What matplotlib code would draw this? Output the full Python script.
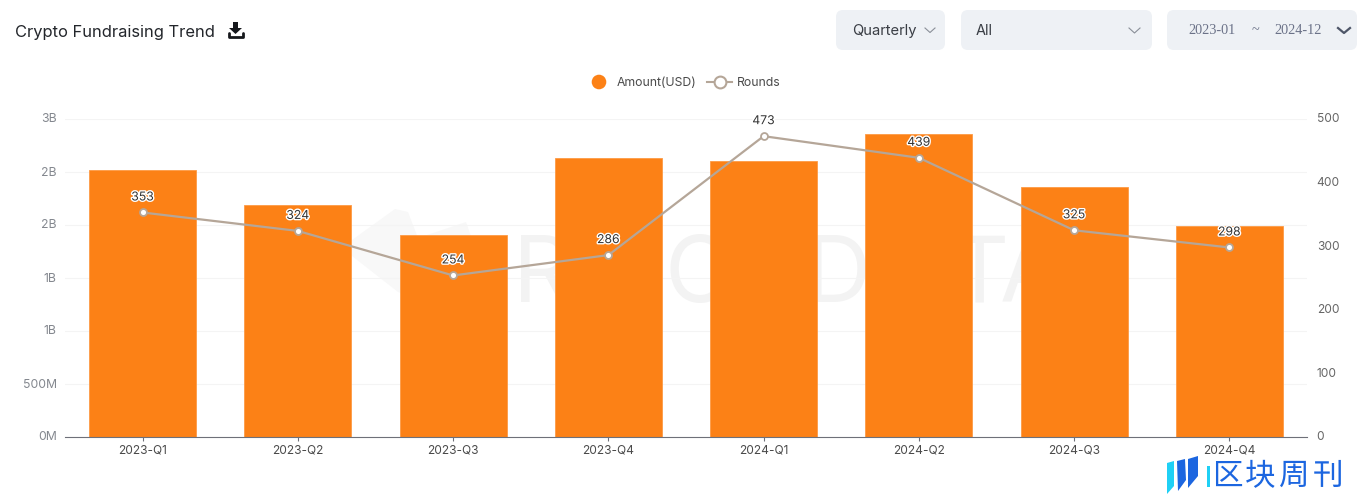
import matplotlib
matplotlib.use('Agg')
import matplotlib.pyplot as plt
import matplotlib.patheffects as pe
from matplotlib.patches import FancyBboxPatch, Polygon, Circle
from matplotlib.transforms import ScaledTranslation
import numpy as np

plt.rcParams['font.family'] = ['Inter', 'DejaVu Sans']

quarters = ['2023-Q1', '2023-Q2', '2023-Q3', '2023-Q4', '2024-Q1', '2024-Q2', '2024-Q3', '2024-Q4']
amount = [2.52e9, 2.19e9, 1.905e9, 2.635e9, 2.60e9, 2.855e9, 2.36e9, 1.99e9]
rounds = [353, 324, 254, 286, 473, 439, 325, 298]
left_ticks = [0, 0.5e9, 1e9, 1.5e9, 2e9, 2.5e9, 3e9]
left_labels = ['0M', '500M', '1B', '1B', '2B', '2B', '3B']
right_ticks = [0, 100, 200, 300, 400, 500]

orange = '#fc8116'
line_col = '#b5a698'
blue = '#1c66e0'
W, H = 1371, 495

fig = plt.figure(figsize=(W / 100, H / 100), dpi=100, facecolor='white')

# background layer in pixel coords, for the watermark
bg = fig.add_axes([0, 0, 1, 1], zorder=0)
bg.set_xlim(0, W)
bg.set_ylim(H, 0)
bg.axis('off')
bg.add_patch(Polygon([(352, 240), (395, 209), (408, 212), (418, 238), (466, 222), (480, 262),
                      (420, 300), (398, 292), (352, 256)],
                     facecolor='#f8f8f8', edgecolor='none'))
wm_x = [513, 592, 665, 745, 805, 880, 950, 1000]
for ch, cx in zip('ROOTDATA', wm_x):
    bg.text(cx, 302, ch, fontsize=66, color='#f3f3f3', ha='left', va='baseline', family='Inter')

ax = fig.add_axes([65 / W, (H - 437) / H, (1307 - 65) / W, (437 - 119) / H], zorder=1)
ax.patch.set_alpha(0)
x = np.arange(len(quarters))
ax.bar(x, amount, width=107 / 155.25, color=orange, edgecolor='#fd9a45', linewidth=0.6, zorder=3)
ax.set_xlim(-0.5, 7.5)
ax.set_ylim(0, 3e9)
ax.set_xticks(x)
ax.set_xticklabels(quarters, fontsize=8.6, color='#4a4a4a')
ax.set_yticks(left_ticks)
ax.set_yticklabels(left_labels, fontsize=8.8, color='#84888f')
ax.tick_params(axis='x', length=3, width=0.8, color='#6e7079', pad=2.5)
ax.tick_params(axis='y', length=0, pad=6)
ax.grid(axis='y', color='#f4f4f4', linewidth=0.8)
ax.set_axisbelow(True)
for s in ['top', 'left', 'right']:
    ax.spines[s].set_visible(False)
ax.spines['bottom'].set_color('#6e7079')
ax.spines['bottom'].set_linewidth(0.8)
ax.spines['bottom'].set_zorder(5)

ax2 = ax.twinx()
ax2.plot(x, rounds, color=line_col, linewidth=1.6, marker='o', markersize=5,
         markerfacecolor='white', markeredgecolor=line_col, markeredgewidth=1.3, zorder=4)
ax2.set_ylim(0, 500)
ax2.set_yticks(right_ticks)
ax2.tick_params(axis='y', length=0, pad=7, labelsize=8.6, labelcolor='#666666')
for s in ['top', 'left', 'right', 'bottom']:
    ax2.spines[s].set_visible(False)
for xi, r in zip(x, rounds):
    ax2.annotate(str(r), (xi, r), xytext=(0, 6.5), textcoords='offset points', ha='center', va='bottom',
                 fontsize=8.8, color='#333333',
                 path_effects=[pe.withStroke(linewidth=2, foreground='white')])

# nudge y labels up a pixel
up = ScaledTranslation(0, 1 / 100, fig.dpi_scale_trans)
for lab in ax.get_yticklabels() + ax2.get_yticklabels():
    lab.set_transform(lab.get_transform() + up)

# page chrome on top, pixel coords
ui = fig.add_axes([0, 0, 1, 1], zorder=2)
ui.set_xlim(0, W)
ui.set_ylim(H, 0)
ui.axis('off')
ui.patch.set_alpha(0)

ui.text(15, 32, 'Crypto Fundraising Trend', fontsize=11.9, color='#23262b', va='center')
# download icon
ui.add_patch(Polygon([(233, 22), (238, 22), (238, 28), (242, 28), (235.5, 34), (229, 28), (233, 28)],
                     facecolor='#16181c', edgecolor='none'))
ui.plot([228.5, 228.5, 243, 243], [33, 36.5, 36.5, 33], color='#16181c', linewidth=2, solid_capstyle='round')

for bx, bw in [(836, 109), (961, 191), (1167, 190)]:
    ui.add_patch(FancyBboxPatch((bx, 10), bw, 40, boxstyle='round,pad=0,rounding_size=7',
                                facecolor='#eef1f5', edgecolor='none'))

ui.text(852, 31, 'Quarterly', fontsize=10.6, color='#3a3e45', va='center')
ui.text(976, 31, 'All', fontsize=10.4, color='#3a3e45', va='center')
ui.text(1188, 30, '2023-01', fontsize=10.3, color='#6b7288', va='center', family='Liberation Serif')
ui.text(1255, 31, '~', fontsize=10.3, color='#6b7288', va='center', ha='center', family='Liberation Serif')
ui.text(1274, 30, '2024-12', fontsize=10.3, color='#6b7288', va='center', family='Liberation Serif')
ui.plot([925, 930, 935], [28, 32.5, 28], color='#8a8f98', linewidth=0.8)
ui.plot([1129, 1134.5, 1140], [28, 33, 28], color='#8a8f98', linewidth=0.8)
ui.plot([1338, 1344, 1350], [28, 33, 28], color='#4e5668', linewidth=1.6)

# legend
ui.add_patch(Circle((599, 82), 7.3, facecolor=orange, edgecolor='none'))
ui.text(617, 82.5, 'Amount(USD)', fontsize=8.8, color='#4a4a4a', va='center')
ui.plot([707, 732], [81.5, 81.5], color=line_col, linewidth=1.5)
ui.plot([720], [81.5], marker='o', markersize=8.5, markerfacecolor='white', markeredgecolor=line_col,
        markeredgewidth=1.5)
ui.text(737, 82.5, 'Rounds', fontsize=8.8, color='#4a4a4a', va='center')

# publisher mark bottom right
ui.add_patch(Polygon([(1167, 463), (1174, 461), (1174, 486), (1167, 494)], facecolor='#1fd0f5', edgecolor='none'))
ui.add_patch(Polygon([(1177, 461), (1185, 459), (1186, 480), (1178, 491)], facecolor=blue, edgecolor='none'))
ui.add_patch(Polygon([(1188, 459), (1198, 456), (1198, 476), (1188, 488)], facecolor=blue, edgecolor='none'))
ui.add_patch(Polygon([(1207, 466), (1210, 466), (1210, 487), (1207, 487)], facecolor='#1fd0f5', edgecolor='none'))
for ch, cx in zip('区块周刊', [1227, 1260, 1294, 1328]):
    ui.text(cx, 476.5, ch, fontsize=22, color=blue, ha='center', va='center',
            family='Noto Sans CJK SC', fontweight='medium')

fig.savefig('out.png', dpi=100)
